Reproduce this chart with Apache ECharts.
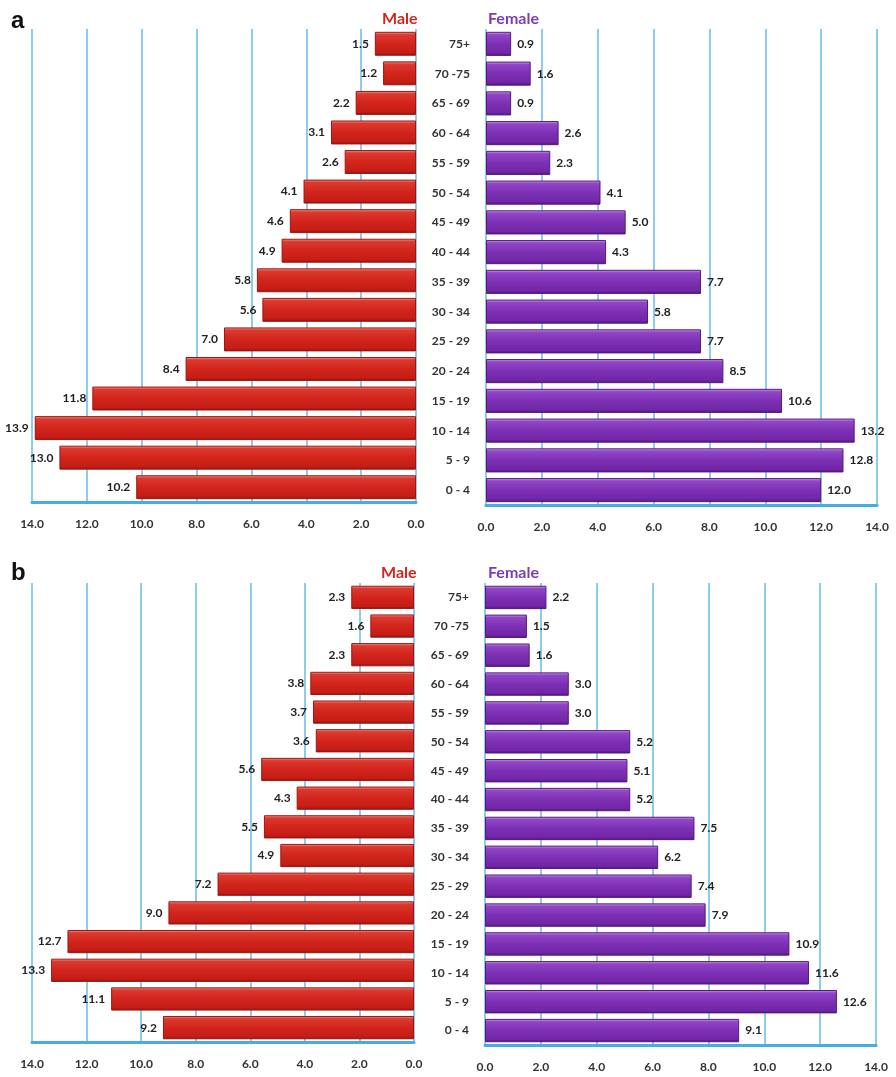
<!DOCTYPE html>
<html>
<head>
<meta charset="utf-8">
<script src="https://cdn.jsdelivr.net/npm/echarts@6/dist/echarts.min.js"></script>
<style>
  html, body { margin: 0; padding: 0; background: #ffffff; }
  #chart { width: 896px; height: 1077px; }
</style>
</head>
<body>
<div id="chart"></div>
<script>
// Age groups, listed from the oldest (top) to the youngest (bottom)
const ageGroups = ["75+", "70 -75", "65 - 69", "60 - 64", "55 - 59", "50 - 54", "45 - 49", "40 - 44",
                   "35 - 39", "30 - 34", "25 - 29", "20 - 24", "15 - 19", "10 - 14", "5 - 9", "0 - 4"];

// Panel a: percentage of population per age group
const maleA   = [1.5, 1.2, 2.2, 3.1, 2.6, 4.1, 4.6, 4.9, 5.8, 5.6, 7.0, 8.4, 11.8, 13.9, 13.0, 10.2];
const femaleA = [0.9, 1.6, 0.9, 2.6, 2.3, 4.1, 5.0, 4.3, 7.7, 5.8, 7.7, 8.5, 10.6, 13.2, 12.8, 12.0];

// Panel b: percentage of population per age group
const maleB   = [2.3, 1.6, 2.3, 3.8, 3.7, 3.6, 5.6, 4.3, 5.5, 4.9, 7.2, 9.0, 12.7, 13.3, 11.1, 9.2];
const femaleB = [2.2, 1.5, 1.6, 3.0, 3.0, 5.2, 5.1, 5.2, 7.5, 6.2, 7.4, 7.9, 10.9, 11.6, 12.6, 9.1];

const axisMax = 14;
const axisStep = 2;

const FONT = 'Lato, "Open Sans", sans-serif';
const gridBlue = '#8ccdee';
const axisBlue = '#45ade2';

// Bevelled bar fills
const redFill = new echarts.graphic.LinearGradient(0, 0, 0, 1, [
  { offset: 0, color: '#f4a39b' },
  { offset: 0.12, color: '#dc3a2f' },
  { offset: 0.5, color: '#d2251c' },
  { offset: 0.88, color: '#c41d16' },
  { offset: 1, color: '#8a110c' }
]);
const purpleFill = new echarts.graphic.LinearGradient(0, 0, 0, 1, [
  { offset: 0, color: '#d3aaee' },
  { offset: 0.12, color: '#9146c6' },
  { offset: 0.5, color: '#7d30b4' },
  { offset: 0.88, color: '#7026a6' },
  { offset: 1, color: '#4a1274' }
]);

const grids = [
  { left: 32, width: 384, top: 29, height: 473 },   // a, male
  { left: 486, width: 391, top: 29, height: 476 },  // a, female
  { left: 32, width: 382, top: 583, height: 459 },  // b, male
  { left: 485, width: 391, top: 583, height: 462 }  // b, female
];

function valueAxis(gridIndex, inverse) {
  return {
    type: 'value', gridIndex, min: 0, max: axisMax, interval: axisStep, inverse,
    axisLine: { show: true, lineStyle: { color: axisBlue, width: 3 } },
    axisTick: { show: false },
    splitLine: { show: true, lineStyle: { color: gridBlue, width: 2 } },
    axisLabel: {
      margin: 16, color: '#333', fontSize: 12, fontWeight: 'bold', fontFamily: FONT,
      formatter: v => v.toFixed(1)
    }
  };
}

function categoryAxis(gridIndex, showLabels) {
  return {
    type: 'category', gridIndex, data: ageGroups, inverse: true,
    axisLine: { show: false }, axisTick: { show: false }, splitLine: { show: false },
    axisLabel: {
      show: showLabels, margin: 16, color: '#333', fontSize: 12, fontWeight: 'bold', fontFamily: FONT
    }
  };
}

function barSeries(idx, data, fill, border, side) {
  return {
    type: 'bar', xAxisIndex: idx, yAxisIndex: idx, data,
    barCategoryGap: '19%',
    itemStyle: { color: fill, borderColor: border, borderWidth: 1 },
    label: {
      show: true, position: side, distance: 6,
      color: '#222', fontSize: 12, fontWeight: 'bold', fontFamily: FONT,
      formatter: p => p.value.toFixed(1)
    }
  };
}

const textStyle = (color, size) => ({ color, fontSize: size, fontWeight: 'bold', fontFamily: FONT });

const chart = echarts.init(document.getElementById('chart'), null, { renderer: 'canvas' });
chart.setOption({
  animation: false,
  backgroundColor: '#ffffff',
  title: [
    { text: 'a', left: 6, top: 4, textStyle: { color: '#111', fontSize: 24, fontWeight: 'bold', fontFamily: 'Liberation Sans, Arial, sans-serif' } },
    { text: 'b', left: 6, top: 556, textStyle: { color: '#111', fontSize: 24, fontWeight: 'bold', fontFamily: 'Liberation Sans, Arial, sans-serif' } },
    { text: 'Male', left: 377, top: 6, textStyle: textStyle('#d0261d', 16) },
    { text: 'Female', left: 483, top: 6, textStyle: textStyle('#7b3cb8', 16) },
    { text: 'Male', left: 376, top: 560, textStyle: textStyle('#d0261d', 16) },
    { text: 'Female', left: 483, top: 560, textStyle: textStyle('#7b3cb8', 16) }
  ],
  grid: grids,
  xAxis: [valueAxis(0, true), valueAxis(1, false), valueAxis(2, true), valueAxis(3, false)],
  yAxis: [categoryAxis(0, false), categoryAxis(1, true), categoryAxis(2, false), categoryAxis(3, true)],
  series: [
    barSeries(0, maleA, redFill, '#9a1812', 'left'),
    barSeries(1, femaleA, purpleFill, '#55197f', 'right'),
    barSeries(2, maleB, redFill, '#9a1812', 'left'),
    barSeries(3, femaleB, purpleFill, '#55197f', 'right')
  ]
});
</script>
</body>
</html>
